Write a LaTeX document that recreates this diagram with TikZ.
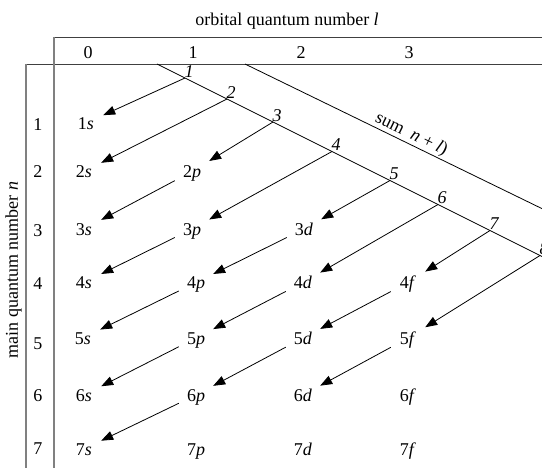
\documentclass[tikz,border=0pt]{standalone}
\usepackage{fontspec}
\setmainfont{Liberation Serif}
\usetikzlibrary{arrows.meta}
\begin{document}
\begin{tikzpicture}[x=1pt,y=-1pt,
  every node/.style={font=\fontsize{18}{20}\selectfont},
  orb/.style={inner sep=0pt, minimum width=34pt, minimum height=22pt, text height=12.2pt, text depth=0pt},
  lbl/.style={inner sep=0pt, text height=12.2pt, text depth=0pt},
  sumnum/.style={anchor=south west, inner sep=0.5pt, xshift=-1pt, font=\fontsize{18}{20}\selectfont\itshape},
  frameV/.style={draw=black!50, line width=1.3pt},
  frameH/.style={draw=black!75, line width=0.9pt},
  diag/.style={draw=black, line width=0.8pt},
  arr/.style={draw=black, line width=0.8pt, -{Triangle[length=12pt,width=9pt]}}
]
\useasboundingbox (0,0) rectangle (542,468);
\clip (0,0) rectangle (542,468);

% frame
\draw[frameH] (54,37) -- (560,37);
\draw[frameH] (26,64) -- (560,64);
\draw[frameV] (54,37) -- (54,480);
\draw[frameV] (26,64) -- (26,480);

% titles
\node[anchor=base] (title) at (287,26) {orbital quantum number \textit{l}};
\node[rotate=90] (ylab) at (13.5,270) {main quantum number \textit{n}};

% column headers
\node[lbl] (h0) at (88,52.5) {0};
\node[lbl] (h1) at (193,52.5) {1};
\node[lbl] (h2) at (301,52.5) {2};
\node[lbl] (h3) at (409,52.5) {3};

% row labels
\node[lbl] (r1) at (38,124) {1};
\node[lbl] (r2) at (38,171.5) {2};
\node[lbl] (r3) at (38,230) {3};
\node[lbl] (r4) at (38,283.5) {4};
\node[lbl] (r5) at (38,343) {5};
\node[lbl] (r6) at (38,395) {6};
\node[lbl] (r7) at (38,448) {7};

% orbitals
\node[orb] (o1s) at (86,123) {1\textit{s}};
\node[orb] (o2s) at (84,171.5) {2\textit{s}};
\node[orb] (o2p) at (192,171.5) {2\textit{p}};
\node[orb] (o3s) at (84,229) {3\textit{s}};
\node[orb] (o3p) at (192,229) {3\textit{p}};
\node[orb] (o3d) at (304,229) {3\textit{d}};
\node[orb] (o4s) at (84,282.5) {4\textit{s}};
\node[orb] (o4p) at (196,282.5) {4\textit{p}};
\node[orb] (o4d) at (303,282.5) {4\textit{d}};
\node[orb] (o4f) at (408,282.5) {4\textit{f}};
\node[orb] (o5s) at (83,338) {5\textit{s}};
\node[orb] (o5p) at (196,338) {5\textit{p}};
\node[orb] (o5d) at (303,338) {5\textit{d}};
\node[orb] (o5f) at (408,338) {5\textit{f}};
\node[orb] (o6s) at (84,395) {6\textit{s}};
\node[orb] (o6p) at (196,395) {6\textit{p}};
\node[orb] (o6d) at (303,395) {6\textit{d}};
\node[orb] (o6f) at (408,395) {6\textit{f}};
\node[orb] (o7s) at (84,449) {7\textit{s}};
\node[orb] (o7p) at (196,449) {7\textit{p}};
\node[orb] (o7d) at (303,449) {7\textit{d}};
\node[orb] (o7f) at (408,449) {7\textit{f}};

% diagonal lines
\coordinate (A0) at (157,64);
\coordinate (A9) at (552,261.5);
\coordinate (B0) at (245,64);
\coordinate (B1) at (552,213.5);
\draw[diag] (A0) -- (A9);
\draw[diag] (B0) -- (B1) node[pos=0.528, sloped, above, inner sep=1pt] (sumlbl) {sum~ \textit{n} + \textit{l})};

% points on the number line
\coordinate (a1) at (185,78);
\coordinate (a2) at (227,99);
\coordinate (a3) at (273,122);
\coordinate (a4) at (332,151.5);
\coordinate (a5) at (390,180.5);
\coordinate (a6) at (438,204.5);
\coordinate (a7) at (490,230.5);
\coordinate (a8) at (540,255.5);
\foreach \k in {1,...,8} { \node[sumnum] (n\k) at (a\k) {\k}; }

% arrows
\draw[arr] (a1) -- (o1s);
\draw[arr] (a2) -- (o2s);
\draw[arr] (a3) -- (o2p);
\draw[arr] (o2p) -- (o3s);
\draw[arr] (a4) -- (o3p);
\draw[arr] (o3p) -- (o4s);
\draw[arr] (a5) -- (o3d);
\draw[arr] (o3d) -- (o4p);
\draw[arr] (o4p) -- (o5s);
\draw[arr] (a6) -- (o4d);
\draw[arr] (o4d) -- (o5p);
\draw[arr] (o5p) -- (o6s);
\draw[arr] (a7) -- (o4f);
\draw[arr] (o4f) -- (o5d);
\draw[arr] (o5d) -- (o6p);
\draw[arr] (o6p) -- (o7s);
\draw[arr] (a8) -- (o5f);
\draw[arr] (o5f) -- (o6d);
\end{tikzpicture}
\end{document}
